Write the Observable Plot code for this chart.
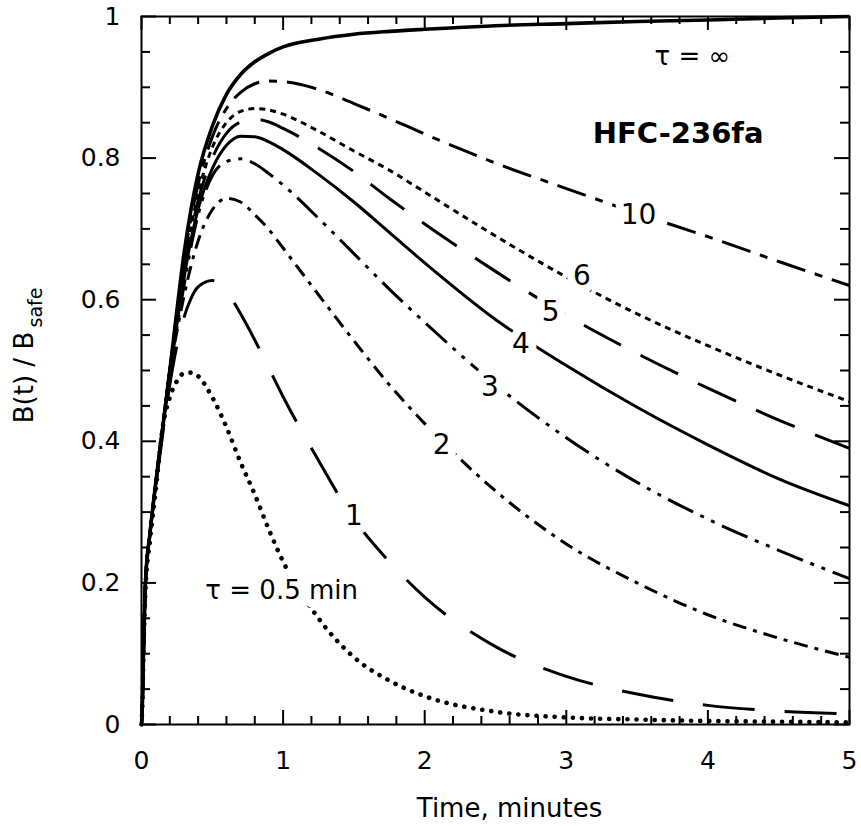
<!DOCTYPE html>
<html>
<head>
<meta charset="utf-8">
<script src="https://cdn.jsdelivr.net/npm/d3@7"></script>
<script src="https://cdn.jsdelivr.net/npm/@observablehq/plot@0.6"></script>
<style>
  body { margin: 0; background: #fff; }
  #chart svg { display: block; }
</style>
</head>
<body>
<div id="chart"></div>
<script>
// ---- data (time in minutes, B(t)/Bsafe) ----
const tEarly = [0, 0.007, 0.014, 0.028, 0.06, 0.1, 0.15, 0.2, 0.25, 0.3, 0.35, 0.4, 0.5, 0.6, 0.7, 0.8, 0.9, 1.0, 1.25, 1.5, 1.75, 2.0, 2.5, 3.0, 3.5, 4.0, 4.5, 5.0];

const bInf  = [0, 0.034, 0.1, 0.2, 0.27, 0.34, 0.42, 0.5, 0.585, 0.665, 0.728, 0.778, 0.845, 0.89, 0.918, 0.936, 0.948, 0.957, 0.968, 0.975, 0.979, 0.982, 0.987, 0.99, 0.993, 0.995, 0.998, 1.0];
const b10   = [0, 0.034, 0.1, 0.2, 0.27, 0.34, 0.42, 0.5, 0.58, 0.655, 0.715, 0.763, 0.83, 0.87, 0.893, 0.905, 0.909, 0.908, 0.897, 0.877, 0.856, 0.834, 0.793, 0.757, 0.722, 0.689, 0.654, 0.62];
const b6    = [0, 0.034, 0.1, 0.2, 0.27, 0.34, 0.42, 0.5, 0.575, 0.645, 0.703, 0.75, 0.815, 0.85, 0.866, 0.87, 0.868, 0.862, 0.838, 0.81, 0.783, 0.752, 0.69, 0.632, 0.58, 0.535, 0.494, 0.456];
const b5    = [0, 0.034, 0.1, 0.2, 0.27, 0.34, 0.42, 0.5, 0.57, 0.638, 0.695, 0.74, 0.80, 0.835, 0.851, 0.855, 0.851, 0.842, 0.814, 0.781, 0.743, 0.707, 0.64, 0.578, 0.524, 0.475, 0.43, 0.39];
const b4    = [0, 0.034, 0.1, 0.2, 0.27, 0.34, 0.42, 0.5, 0.565, 0.63, 0.685, 0.728, 0.785, 0.818, 0.831, 0.83, 0.823, 0.812, 0.777, 0.738, 0.695, 0.652, 0.572, 0.507, 0.448, 0.395, 0.347, 0.309];
const b3    = [0, 0.034, 0.1, 0.2, 0.27, 0.34, 0.42, 0.5, 0.56, 0.62, 0.675, 0.72, 0.775, 0.795, 0.799, 0.792, 0.778, 0.762, 0.715, 0.665, 0.615, 0.568, 0.48, 0.405, 0.342, 0.29, 0.246, 0.206];
const b2    = [0, 0.034, 0.1, 0.2, 0.27, 0.34, 0.42, 0.5, 0.555, 0.605, 0.648, 0.683, 0.727, 0.743, 0.738, 0.72, 0.699, 0.673, 0.607, 0.542, 0.48, 0.425, 0.33, 0.255, 0.2, 0.155, 0.122, 0.095];
const b1    = [0, 0.034, 0.1, 0.2, 0.27, 0.335, 0.41, 0.48, 0.535, 0.575, 0.602, 0.618, 0.627, 0.612, 0.58, 0.543, 0.503, 0.463, 0.373, 0.29, 0.23, 0.18, 0.11, 0.068, 0.043, 0.027, 0.019, 0.015];
const bHalf = [0, 0.034, 0.1, 0.19, 0.26, 0.33, 0.42, 0.462, 0.485, 0.496, 0.497, 0.492, 0.462, 0.42, 0.37, 0.325, 0.275, 0.23, 0.15, 0.095, 0.062, 0.04, 0.018, 0.01, 0.007, 0.005, 0.004, 0.003];

// curve labels (tau in minutes) placed on their curves
const curveLabelText = ["10", "6", "5", "4", "3", "2", "1"];
const curveLabelT = [3.51, 3.11, 2.89, 2.68, 2.46, 2.12, 1.50];
const curveLabelB = [0.720, 0.633, 0.583, 0.537, 0.477, 0.395, 0.295];

// other annotations
const noteText = ["τ = ∞", "τ = 0.5 min"];
const noteT = [3.89, 0.99];
const noteB = [0.943, 0.189];
const titleText = ["HFC-236fa"];
const titleT = [3.79];
const titleB = [0.834];

// ticks
const xMajor = [0, 1, 2, 3, 4, 5];
const xMinor = [0.2, 0.4, 0.6, 0.8, 1.2, 1.4, 1.6, 1.8, 2.2, 2.4, 2.6, 2.8, 3.2, 3.4, 3.6, 3.8, 4.2, 4.4, 4.6, 4.8];
const yMajor = [0, 0.2, 0.4, 0.6, 0.8, 1];
const yMinor = [0.05, 0.1, 0.15, 0.25, 0.3, 0.35, 0.45, 0.5, 0.55, 0.65, 0.7, 0.75, 0.85, 0.9, 0.95];

const xLabel = ["Time, minutes"];
const yLabelMain = ["B(t) / B"];
const yLabelSub = ["safe"];

// ---- build ----
const zip = (ts, bs) => ts.map((t, i) => ({t, b: bs[i]}));
const series = [
  {data: zip(tEarly, bInf), dash: null, w: 3.6, cap: "butt"},
  {data: zip(tEarly, b10), dash: "30,10,8,10", w: 3, cap: "butt"},
  {data: zip(tEarly, b6), dash: "6,5", w: 3, cap: "butt"},
  {data: zip(tEarly, b5), dash: "42,22", w: 3, cap: "butt"},
  {data: zip(tEarly, b4), dash: null, w: 3, cap: "butt"},
  {data: zip(tEarly, b3), dash: "28,8,4,8,4,8", w: 3, cap: "butt"},
  {data: zip(tEarly, b2), dash: "14,7,4,7", w: 3, cap: "butt"},
  {data: zip(tEarly, b1), dash: "52,30", w: 3, cap: "butt"},
  {data: zip(tEarly, bHalf), dash: "0.1,9", w: 4.6, cap: "round"}
];

const W = 861, H = 826;
const mL = 141, mR = 12, mT = 16, mB = 102;
const plotW = W - mL - mR, plotH = H - mT - mB;
const ff = "DejaVu Sans";

const lineMarks = series.map(s => Plot.line(s.data, {
  x: "t", y: "b", stroke: "black", strokeWidth: s.w,
  strokeDasharray: s.dash || undefined, strokeLinecap: s.cap,
  curve: "monotone-x"
}));

const chart = Plot.plot({
  width: W, height: H,
  marginLeft: mL, marginRight: mR, marginTop: mT, marginBottom: mB,
  style: {fontFamily: ff, background: "white", color: "black"},
  x: {domain: [0, 5]},
  y: {domain: [0, 1]},
  marks: [
    ...lineMarks,
    // ticks pointing inward on all four sides
    Plot.tickX(xMajor, {x: d => d, insetTop: plotH - 14, strokeWidth: 2}),
    Plot.tickX(xMinor, {x: d => d, insetTop: plotH - 8, strokeWidth: 2}),
    Plot.tickX(xMajor, {x: d => d, insetBottom: plotH - 14, strokeWidth: 2}),
    Plot.tickX(xMinor, {x: d => d, insetBottom: plotH - 8, strokeWidth: 2}),
    Plot.tickY(yMajor, {y: d => d, insetRight: plotW - 15, strokeWidth: 2}),
    Plot.tickY(yMinor, {y: d => d, insetRight: plotW - 9, strokeWidth: 2}),
    Plot.tickY(yMajor, {y: d => d, insetLeft: plotW - 15, strokeWidth: 2}),
    Plot.tickY(yMinor, {y: d => d, insetLeft: plotW - 9, strokeWidth: 2}),
    Plot.frame({stroke: "black", strokeWidth: 2}),
    Plot.axisX(xMajor, {tickSize: 0, tickPadding: 27, fontSize: 25, label: null, tickFormat: d => String(d)}),
    Plot.axisY(yMajor, {tickSize: 0, tickPadding: 21, fontSize: 25, label: null, tickFormat: d => String(d)}),
    // curve labels with white halo (they interrupt the curves as in the original)
    Plot.text(curveLabelText, {
      x: (d, i) => curveLabelT[i], y: (d, i) => curveLabelB[i], text: d => d,
      fontSize: 28, fill: "black", stroke: "white", strokeWidth: 16, paintOrder: "stroke"
    }),
    Plot.text(noteText, {
      x: (d, i) => noteT[i], y: (d, i) => noteB[i], text: d => d,
      fontSize: 26, fill: "black", stroke: "white", strokeWidth: 16, paintOrder: "stroke"
    }),
    Plot.text(titleText, {
      x: (d, i) => titleT[i], y: (d, i) => titleB[i], text: d => d,
      fontSize: 29, fontWeight: "bold", fill: "black"
    }),
    // axis titles
    Plot.text(xLabel, {frameAnchor: "bottom", text: d => d, dx: 14, dy: 84, fontSize: 26, lineAnchor: "middle"}),
    Plot.text(yLabelMain, {frameAnchor: "left", text: d => d, rotate: -90, dx: -117, dy: 7, fontSize: 26, textAnchor: "middle", lineAnchor: "middle"}),
    Plot.text(yLabelSub, {frameAnchor: "left", text: d => d, rotate: -90, dx: -106, dy: -43, fontSize: 19, textAnchor: "start", lineAnchor: "middle"})
  ]
});

document.getElementById("chart").appendChild(chart);
</script>
</body>
</html>
